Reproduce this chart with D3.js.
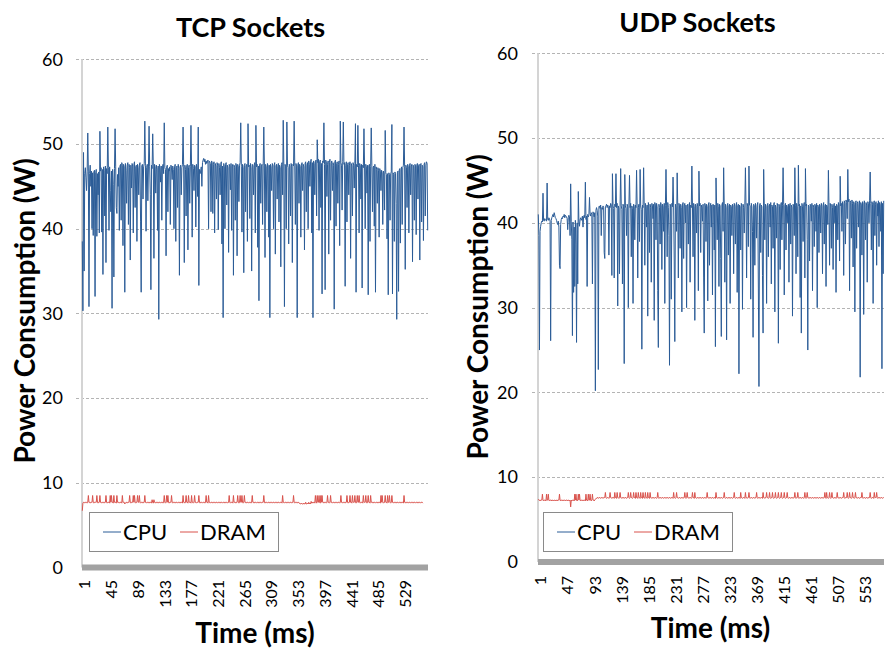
<!DOCTYPE html>
<html>
<head>
<meta charset="utf-8">
<script src="https://cdn.jsdelivr.net/npm/d3@7"></script>
<style>
  body { margin: 0; background: #fff; }
  text { font-family: Lato, "Open Sans", sans-serif; fill: #000; }
</style>
</head>
<body>
<svg width="893" height="657"></svg>
<script>
// CPU power, TCP sockets run (W), one value per ms
const tcpCpu = [
38.5,30.3,49.0,35.0,46.5,47.2,46.0,44.5,46.8,51.3,46.7,30.8,46.5,47.5,45.0,46.8,40.0,46.6,39.2,46.7,46.9,32.0,46.6,47.0,39.1,46.5,44.0,46.7,39.5,51.5,
46.8,47.2,39.6,47.0,34.6,47.3,46.9,41.5,47.4,36.0,47.1,46.5,52.0,47.2,39.8,47.3,44.5,42.0,46.8,30.6,47.0,45.2,34.3,47.1,51.8,47.3,42.5,41.8,46.4,45.0,
47.2,39.8,47.4,47.6,41.0,47.8,47.5,38.0,47.6,47.3,32.5,47.7,46.9,43.0,47.5,47.8,40.5,47.6,47.2,36.3,47.5,44.8,47.7,47.4,39.5,47.6,47.9,42.5,47.3,47.5,
38.5,47.6,47.2,44.0,47.5,47.8,40.8,32.5,47.4,47.6,43.5,47.3,47.7,52.7,47.5,39.7,47.2,47.6,43.3,47.4,52.1,47.3,44.0,32.8,47.5,47.1,51.2,47.4,36.5,47.6,
47.3,44.2,47.5,47.0,39.8,47.4,29.3,47.6,47.2,45.5,47.4,41.0,47.3,47.6,46.5,52.5,47.2,47.0,36.8,47.3,47.5,42.0,47.1,46.8,47.3,40.5,47.5,47.2,45.8,47.4,
47.0,40.0,47.3,47.6,38.5,47.2,47.4,42.5,47.6,47.1,34.5,47.3,47.5,44.0,47.2,47.6,52.0,47.3,36.0,47.5,47.0,41.5,47.4,47.6,37.5,47.2,47.5,43.0,47.3,52.2,
47.4,39.0,47.6,47.1,44.5,47.5,47.3,40.2,47.6,47.2,43.8,52.0,33.3,47.0,46.5,46.8,47.3,45.0,47.8,48.1,48.3,47.9,48.2,47.6,48.0,47.7,47.9,48.1,40.0,48.0,
47.9,47.7,42.0,48.0,47.8,41.8,47.6,47.9,39.5,47.7,47.4,43.5,47.8,47.5,39.9,47.7,47.2,44.0,47.6,47.9,38.2,47.4,29.5,47.7,47.3,40.0,47.6,47.8,42.8,47.5,
47.2,37.2,47.6,47.4,44.6,47.7,39.8,47.3,47.6,34.5,47.5,47.2,41.0,47.7,47.4,36.8,47.6,47.3,43.2,47.5,47.8,52.5,47.3,39.6,47.6,47.2,34.8,47.5,47.7,42.0,
47.4,47.6,38.5,52.4,47.3,47.5,41.2,47.7,47.2,35.0,47.6,47.4,44.0,47.5,47.8,39.5,52.2,47.3,47.6,37.8,47.4,31.5,47.5,47.7,43.0,47.3,47.6,40.5,47.5,52.0,
47.4,36.6,47.6,47.3,42.0,47.7,47.4,39.0,47.5,29.5,47.6,47.3,44.5,47.7,47.4,40.0,47.5,47.8,37.0,47.4,47.6,43.5,47.3,47.7,40.8,47.5,47.2,35.5,47.6,47.8,
44.0,52.8,47.4,30.8,47.6,47.3,40.0,52.6,47.5,47.2,38.2,47.6,47.4,41.5,47.7,47.3,36.0,47.6,47.4,52.7,47.5,40.5,47.7,47.3,29.5,47.5,47.8,43.0,47.6,47.3,
39.0,47.5,47.8,44.5,47.6,47.3,37.5,47.7,47.9,42.0,47.5,47.8,40.0,48.0,47.6,45.0,47.9,48.2,39.5,47.8,29.5,48.0,47.7,44.0,47.9,48.1,41.5,50.5,47.8,48.2,
39.8,47.9,48.1,42.5,47.7,32.3,48.0,47.8,52.5,47.6,32.8,48.1,47.9,43.8,47.6,48.0,37.0,47.8,48.2,41.0,47.7,48.0,44.5,47.8,47.5,30.5,47.9,48.1,40.3,47.7,
47.9,43.0,47.6,48.0,38.0,52.7,47.8,47.5,42.2,47.9,52.6,47.6,47.8,33.2,47.5,47.9,40.8,47.6,47.8,44.0,47.5,47.9,36.5,47.7,47.4,41.5,47.8,47.5,44.8,47.7,
52.4,32.5,47.6,47.3,52.2,47.5,39.5,47.7,47.4,43.5,47.6,33.0,47.5,47.2,51.8,47.4,40.0,47.6,47.3,44.2,47.5,32.2,47.4,47.6,38.5,47.3,51.9,47.5,42.0,47.2,
47.4,40.3,47.6,32.5,47.3,47.0,43.0,47.2,46.9,39.0,47.1,46.8,44.5,46.9,46.6,40.5,46.8,46.5,42.2,51.6,46.6,46.4,38.8,46.5,32.2,46.6,46.4,41.0,46.5,46.7,
52.3,32.3,46.6,46.4,38.5,46.7,46.5,43.0,29.3,46.6,46.8,32.6,46.9,47.1,38.3,47.0,47.3,40.5,47.2,47.5,52.0,47.3,35.2,47.5,47.2,42.5,47.6,47.3,39.5,47.5,
47.7,44.0,47.4,47.6,36.1,47.5,47.3,41.0,47.6,47.4,39.3,47.5,47.7,43.5,47.4,47.6,36.3,47.5,47.7,40.8,47.5,47.3,38.6,47.6,47.8,41.5,47.5,47.9,47.7,39.8
];

// DRAM power, TCP sockets run (W)
const tcpDram = [
6.7,7.6,7.7,7.7,7.6,7.7,7.7,7.7,7.6,7.7,8.5,7.7,7.7,7.6,7.7,7.7,7.7,8.5,7.7,7.6,7.7,7.7,7.7,7.7,8.5,7.7,7.6,7.7,7.7,8.5,
7.7,7.7,7.6,7.7,7.7,7.7,7.6,7.7,7.7,8.5,7.7,7.6,7.7,7.7,7.7,7.6,8.5,7.7,8.5,7.7,7.7,7.6,8.5,7.7,7.7,7.7,7.6,8.5,7.7,7.7,
7.7,7.6,7.7,7.7,7.7,7.6,8.5,7.7,7.7,7.7,7.5,7.6,7.7,7.7,7.6,7.7,7.7,7.7,8.5,7.7,7.6,7.7,7.7,7.7,8.5,7.7,8.5,7.7,7.6,7.7,
7.7,8.5,7.7,7.7,8.5,7.7,7.6,7.7,7.7,7.7,7.6,7.7,7.7,8.5,7.7,7.7,7.6,7.7,7.7,7.7,7.6,7.7,7.7,7.7,7.6,8.0,7.7,7.6,8.0,7.7,
7.7,7.6,7.7,7.7,7.7,7.6,7.7,7.7,7.7,7.6,7.7,7.7,7.7,7.6,7.7,8.5,7.7,7.6,7.7,8.5,7.7,8.5,7.7,7.6,7.7,7.7,7.7,8.5,7.7,7.6,
7.7,7.7,7.7,7.6,7.7,7.7,7.7,7.6,7.7,7.7,7.7,7.6,7.7,7.7,7.7,7.6,8.5,7.7,7.7,7.6,7.7,8.5,7.7,7.7,7.6,8.5,7.7,7.7,7.7,7.6,
8.5,7.7,7.7,7.6,7.7,8.5,7.7,7.7,7.6,7.7,7.7,7.7,8.5,7.7,7.6,7.7,7.7,7.7,7.6,7.7,7.7,7.7,7.6,7.7,8.5,7.7,7.7,7.6,8.5,7.7,
7.7,7.6,7.7,7.7,7.7,7.6,7.7,7.7,7.7,7.6,7.7,7.7,7.7,7.6,7.7,7.7,7.7,7.6,7.7,7.7,7.7,7.6,7.7,7.7,7.7,7.6,7.7,7.7,7.7,7.6,
7.7,7.7,8.5,7.7,7.6,7.7,7.7,7.7,7.6,8.5,7.7,7.7,7.7,7.6,7.7,7.7,8.5,7.7,7.6,7.7,8.5,7.7,7.7,8.5,7.7,7.6,7.7,8.5,7.7,7.7,
7.6,7.7,7.7,7.7,7.6,7.7,7.7,7.7,7.6,7.7,8.5,7.7,7.7,7.6,7.7,7.7,7.7,7.6,7.7,7.7,7.7,7.6,7.7,7.7,7.7,7.6,7.7,7.7,7.7,8.5,
7.7,7.6,7.7,7.7,7.7,7.6,7.7,7.7,7.7,7.6,7.7,7.7,7.7,7.6,7.7,7.7,7.7,7.6,7.7,7.7,7.7,7.6,7.7,7.7,7.7,7.6,7.7,7.7,7.7,7.6,
8.5,7.7,7.7,7.6,7.7,7.7,7.7,7.6,7.7,7.7,7.7,7.6,7.7,7.7,7.7,7.6,7.7,7.7,8.5,7.7,7.6,7.7,7.7,7.7,7.6,7.7,7.7,7.6,7.6,7.5,
7.5,7.6,7.5,7.5,7.5,7.6,7.5,7.5,7.7,7.5,7.5,7.6,7.5,7.7,7.5,7.6,7.5,7.8,7.6,7.7,7.6,7.7,7.7,7.6,8.5,7.7,7.6,8.5,7.7,7.7,
8.5,7.7,7.6,8.5,7.7,8.5,7.7,7.7,7.6,7.7,7.7,7.7,7.6,7.7,8.5,7.7,7.7,7.6,7.7,8.5,7.7,7.7,7.6,7.7,7.7,7.7,7.6,7.7,7.7,7.7,
7.6,7.7,7.7,7.7,7.6,7.7,8.5,7.7,7.7,7.6,7.7,7.7,7.7,7.6,7.7,7.7,8.5,7.7,7.6,7.7,7.7,8.5,7.7,7.7,7.6,8.5,7.7,7.7,7.7,8.5,
7.7,7.6,7.7,8.5,7.7,7.7,8.5,7.7,7.6,7.7,7.7,7.7,7.6,8.5,7.7,7.7,7.7,8.5,7.7,7.6,7.7,8.5,7.7,7.7,7.6,8.5,7.7,7.7,7.7,7.6,
7.7,7.7,7.7,7.6,7.7,7.7,7.7,7.6,7.7,7.7,7.7,7.6,8.5,7.7,8.5,7.7,7.6,7.7,7.7,8.5,7.7,7.7,7.6,8.5,7.7,7.7,8.5,7.7,7.6,7.7,
8.5,7.7,7.7,7.6,7.7,7.7,7.7,7.6,7.7,7.7,7.7,7.6,7.7,7.7,7.7,7.6,7.7,7.7,7.7,7.6,8.5,7.7,7.7,7.6,7.7,7.7,7.7,7.6,7.7,7.7,
7.7,7.6,7.7,7.7,7.7,7.6,7.7,7.7,7.7,7.6,7.7,7.7,7.7,7.6,7.7,7.7,7.7,7.6,7.7,7.7,7.7,7.6
];

// CPU power, UDP sockets run (W)
const udpCpu = [
41.0,38.5,25.0,39.0,39.6,40.0,40.2,40.1,43.5,40.3,40.2,40.5,40.4,40.3,40.2,44.7,40.4,40.3,40.6,40.5,40.2,26.1,40.3,40.6,40.8,41.0,40.7,41.2,40.9,40.6,
40.5,40.3,40.0,39.8,40.2,39.5,35.0,34.6,39.8,40.4,40.6,40.5,40.8,40.7,41.0,40.6,40.9,40.8,40.7,40.5,39.2,40.6,40.9,40.7,38.5,44.6,40.2,38.0,26.7,40.1,
31.8,39.5,32.5,40.3,37.5,25.9,40.0,32.8,43.7,40.2,39.6,40.4,40.6,40.3,40.5,40.8,39.5,40.7,40.9,40.6,44.8,40.4,40.8,32.5,41.0,40.7,40.9,43.0,41.1,40.8,
41.2,41.0,32.8,41.3,41.0,40.7,41.2,20.2,41.5,41.8,41.5,40.8,22.7,41.9,42.0,41.7,42.1,38.5,41.8,41.6,42.0,41.8,36.5,35.8,41.9,42.0,42.2,41.8,42.1,41.9,
36.2,42.0,41.8,42.3,42.1,33.8,45.8,42.0,41.7,33.5,42.2,41.9,45.8,41.8,42.3,30.2,42.0,41.7,34.0,42.1,46.4,42.0,41.6,32.8,42.2,41.9,23.4,45.7,42.0,41.7,
38.5,42.2,41.9,30.0,42.1,45.6,41.8,42.3,36.0,42.0,41.7,30.5,42.2,41.9,38.0,42.1,41.8,46.2,42.0,33.5,41.8,42.2,37.8,46.3,42.0,41.6,25.1,42.1,41.8,46.5,
42.0,35.0,42.3,41.9,39.5,42.1,29.0,42.4,42.0,36.5,42.2,41.8,33.0,42.3,42.0,40.5,42.2,28.5,42.4,42.1,38.0,42.3,41.9,32.0,25.3,42.2,41.8,37.5,42.4,42.0,
34.5,42.2,41.9,39.0,42.3,30.5,42.0,46.3,42.1,36.0,42.4,41.8,38.5,23.2,42.2,42.0,31.0,42.3,41.9,45.4,42.1,35.5,26.0,42.2,41.8,39.0,45.9,42.0,33.5,42.3,
42.0,37.0,42.2,41.8,29.5,42.1,42.4,35.8,42.0,42.3,40.0,42.1,30.0,41.9,42.2,37.5,42.0,42.4,33.0,42.1,41.8,46.7,42.0,36.0,42.3,41.9,28.5,42.2,42.0,38.8,
42.3,41.9,32.0,46.1,42.0,42.3,36.5,42.1,41.8,40.2,42.2,33.5,27.0,42.3,42.0,37.8,42.2,41.9,30.8,42.1,42.4,35.0,42.0,42.3,39.5,42.1,31.5,42.2,41.9,36.8,
42.1,25.4,45.3,42.0,38.0,42.3,41.9,32.5,42.2,42.0,35.8,26.6,42.1,42.4,39.0,46.5,42.0,33.0,42.2,41.8,26.2,42.1,42.3,36.2,42.0,42.2,30.5,42.1,41.9,38.5,
42.2,42.0,34.0,42.3,41.9,37.5,42.1,42.4,31.8,42.0,42.2,22.2,42.1,41.9,36.8,42.3,42.0,29.8,42.2,41.8,38.8,42.1,46.5,42.0,33.5,42.3,41.9,37.2,46.7,42.1,
42.0,31.0,42.3,41.9,39.0,26.5,42.2,42.0,35.0,42.3,41.8,38.2,42.1,42.4,32.2,20.7,42.0,42.3,36.5,42.1,41.9,33.8,27.0,46.3,42.0,38.0,42.2,41.9,30.5,42.1,
42.3,36.0,42.0,42.2,39.5,42.4,32.8,42.1,41.9,37.0,42.2,42.4,29.5,42.1,41.8,38.2,42.3,42.0,25.8,42.2,41.9,34.5,42.1,42.4,38.0,42.0,46.5,42.2,31.5,42.0,
42.3,36.8,42.1,41.9,40.0,42.2,33.0,42.0,42.3,37.5,42.1,41.8,29.0,42.2,42.0,38.5,46.5,42.1,34.0,42.3,41.9,36.0,46.8,42.0,42.2,31.2,42.0,27.0,42.3,41.9,
37.8,42.1,42.4,33.5,46.4,42.0,42.2,38.0,25.0,42.1,41.9,35.5,42.2,42.0,40.2,42.3,32.0,42.1,41.8,37.2,42.2,42.0,39.0,42.3,30.0,42.1,41.9,36.5,42.2,42.0,
38.8,42.3,41.9,34.0,42.1,42.4,37.5,42.0,42.2,32.5,42.1,41.9,39.8,46.2,42.0,35.0,42.3,42.0,37.0,42.2,41.8,34.5,42.1,42.3,40.0,42.0,31.8,42.2,42.0,38.0,
42.4,42.1,35.5,45.5,42.0,42.3,39.0,42.5,42.2,33.8,42.6,42.3,37.5,42.7,42.4,40.5,46.3,42.5,42.8,32.0,42.6,42.4,38.2,42.7,42.3,34.8,42.5,42.2,29.5,42.4,
42.6,37.0,42.3,42.5,39.5,42.2,42.6,21.8,42.4,42.1,36.2,42.5,42.3,29.2,42.6,42.2,38.0,42.4,42.1,33.0,42.5,42.3,40.0,42.6,46.0,42.3,36.8,42.5,42.2,30.5,
42.4,42.6,38.5,42.2,42.5,35.0,42.3,40.8,42.6,37.2,42.4,42.1,39.0,42.5,22.8,42.3,34.0,42.6
];

// DRAM power, UDP sockets run (W)
const udpDram = [
7.4,7.3,7.3,7.2,7.3,7.3,7.3,8.0,7.3,7.2,7.3,7.3,7.3,7.2,8.0,7.3,7.3,8.0,7.3,7.2,7.3,7.3,7.3,7.2,7.3,7.3,7.2,7.3,7.3,7.2,
7.3,7.3,7.2,7.3,7.3,7.3,8.0,7.3,7.2,7.3,7.3,7.3,7.2,7.3,7.3,7.3,7.2,7.3,7.3,7.3,7.2,7.3,7.3,7.2,7.3,6.5,7.3,7.2,7.3,7.3,
7.3,7.2,8.0,7.3,8.0,7.3,7.2,7.3,8.0,7.3,8.0,7.3,7.2,7.3,7.3,7.3,7.2,7.3,7.3,7.3,7.2,8.0,7.3,7.3,7.2,8.0,7.3,7.3,8.0,7.3,
7.2,7.3,8.0,7.3,7.3,7.2,7.3,7.4,7.5,7.5,7.6,7.6,7.5,7.6,7.6,7.6,7.5,7.6,7.6,7.6,7.5,7.6,7.6,7.6,8.2,7.6,7.5,7.6,7.6,7.6,
7.5,7.6,8.2,7.6,7.6,7.5,7.6,7.6,7.6,7.5,8.2,7.6,7.6,7.5,8.2,7.6,7.6,7.5,7.6,8.2,7.6,7.6,7.5,7.6,7.6,7.6,7.5,7.6,7.6,7.6,
7.5,7.6,7.6,8.2,7.6,7.5,7.6,8.2,7.6,7.6,7.5,7.6,8.2,7.6,7.6,7.5,8.2,7.6,7.6,7.5,8.2,7.6,7.6,7.5,8.2,7.6,7.6,7.5,8.2,7.6,
7.6,7.5,8.2,7.6,7.6,7.5,8.2,7.6,7.6,7.5,8.2,7.6,7.6,7.5,7.6,7.6,7.6,7.5,7.6,7.6,7.6,7.5,7.6,8.2,7.6,7.5,7.6,7.6,7.6,7.5,
7.6,7.6,7.6,7.5,7.6,7.6,7.6,7.5,7.6,7.6,7.6,7.5,7.6,7.6,7.6,7.5,7.6,7.6,7.6,7.5,8.2,7.6,7.6,7.5,7.6,8.2,7.6,7.6,7.5,7.6,
7.6,7.6,7.5,7.6,7.6,7.6,7.5,7.6,7.6,8.2,7.6,7.5,7.6,8.2,7.6,7.6,7.5,7.6,7.6,7.6,7.5,7.6,8.2,7.6,7.6,7.5,8.2,7.6,7.6,7.5,
7.6,7.6,7.6,7.5,7.6,7.6,7.6,7.5,7.6,7.6,7.6,7.5,7.6,7.6,7.6,7.5,7.6,8.2,7.6,7.6,7.5,7.6,7.6,7.6,7.5,7.6,7.6,7.6,7.5,7.6,
7.6,7.5,8.2,7.6,7.6,7.5,7.6,7.6,7.6,7.5,7.6,7.6,7.6,7.5,7.6,7.6,8.2,7.6,7.5,7.6,7.6,7.6,7.5,7.6,7.6,7.6,7.5,7.6,7.6,7.6,
7.5,7.6,7.6,8.2,7.6,7.5,7.6,7.6,7.6,7.5,7.6,7.6,7.6,7.5,8.2,7.6,7.6,7.5,7.6,7.6,7.6,7.5,8.2,7.6,7.6,7.5,7.6,7.6,8.2,7.6,
7.5,7.6,7.6,7.6,7.5,7.6,7.6,7.6,7.5,7.6,7.6,8.2,7.6,7.5,7.6,7.6,7.6,7.5,7.6,7.6,7.6,7.5,8.2,7.6,7.6,7.5,7.6,7.6,8.2,7.6,
7.6,7.5,7.6,8.2,7.6,7.5,7.6,7.6,8.2,7.6,7.5,7.6,7.6,8.2,7.6,7.5,7.6,7.6,8.2,7.6,7.5,7.6,7.6,8.2,7.6,7.5,7.6,7.6,8.2,7.6,
7.5,7.6,7.6,8.2,7.6,7.5,7.6,7.6,7.6,7.5,7.6,7.6,7.6,7.5,7.6,7.6,8.2,7.6,7.5,7.6,7.6,8.2,7.6,7.5,7.6,7.6,7.6,7.5,7.6,7.6,
7.6,7.5,7.6,8.2,7.6,7.5,7.6,8.2,7.6,7.6,7.5,7.6,7.6,7.6,7.5,7.6,7.6,7.6,7.5,7.6,7.6,7.6,7.5,7.6,7.6,7.6,7.5,7.6,7.6,7.6,
7.5,7.6,7.6,7.6,7.5,7.6,7.6,8.2,7.6,7.5,8.2,7.6,7.6,7.5,7.6,8.2,7.6,7.5,7.6,8.2,7.6,7.6,7.5,7.6,7.6,7.6,7.5,7.6,8.2,7.6,
7.6,7.5,7.6,7.6,7.6,7.5,7.6,7.6,7.6,8.2,7.6,7.5,7.6,7.6,7.6,8.2,7.6,7.5,7.6,8.2,7.6,7.6,7.5,7.6,8.2,7.6,7.6,7.5,7.6,8.2,
7.6,7.6,7.5,7.6,7.6,7.6,7.5,7.6,7.6,7.6,8.2,7.6,7.5,7.6,7.6,7.6,7.5,7.6,7.6,7.6,7.5,7.6,7.6,7.6,8.2,7.6,7.5,7.6,7.6,7.6,
7.5,8.2,7.6,7.6,7.6,8.2,7.6,7.5,7.6,7.6,7.6,7.5,7.6,7.6,7.6,7.5,7.6,7.6
];

const yTicks = [0, 10, 20, 30, 40, 50, 60];
const tcpTimeTicks = [1, 45, 89, 133, 177, 221, 265, 309, 353, 397, 441, 485, 529];
const udpTimeTicks = [1, 47, 93, 139, 185, 231, 277, 323, 369, 415, 461, 507, 553];
const seriesNames = ["CPU", "DRAM"];
const seriesColors = ["#2b5c97", "#d9524c"];

const svg = d3.select("svg");

function drawPanel(p) {
    const g = svg.append("g");
    const n = p.cpu.length;

    // excel style category axis: one point per ms, centred in its slot
    const x = d3.scalePoint()
        .domain(d3.range(1, n + 1))
        .range([p.left, p.right])
        .padding(0.5);
    const y = d3.scaleLinear().domain([0, 60]).range([p.bottom, p.top]);

    // dashed gridlines + little tick stub on the left
    g.selectAll(".grid")
        .data(yTicks.filter(d => d > 0))
        .join("line")
        .attr("class", "grid")
        .attr("x1", p.left - 6).attr("x2", p.right)
        .attr("y1", d => Math.round(y(d)) + 0.5).attr("y2", d => Math.round(y(d)) + 0.5)
        .attr("stroke", "#b4b4b4")
        .attr("stroke-dasharray", "3,2");

    // y axis line
    g.append("line")
        .attr("x1", p.left).attr("x2", p.left)
        .attr("y1", p.top).attr("y2", p.bottom)
        .attr("stroke", "#d4d4d4")
        .attr("stroke-width", 2);

    // y tick labels
    const yAxis = d3.axisLeft(y).tickValues(yTicks).tickSize(0).tickPadding(0);
    const ya = g.append("g")
        .attr("transform", `translate(${p.tickX},0)`)
        .call(yAxis);
    ya.select(".domain").remove();
    ya.selectAll("text")
        .attr("font-family", "Lato")
        .attr("font-size", 18)
        .attr("fill", "#000");

    // data lines
    const line = d3.line()
        .x((d, i) => x(i + 1))
        .y(d => y(d));

    g.append("path")
        .datum(p.cpu)
        .attr("fill", "none")
        .attr("stroke", seriesColors[0])
        .attr("stroke-width", 1)
        .attr("d", line);

    g.append("path")
        .datum(p.dram)
        .attr("fill", "none")
        .attr("stroke", seriesColors[1])
        .attr("stroke-width", 1)
        .attr("d", line);

    // thick grey x axis band
    g.append("line")
        .attr("x1", p.left).attr("x2", p.right)
        .attr("y1", y(0)).attr("y2", y(0))
        .attr("stroke", "#a2a2a2")
        .attr("stroke-width", 6);

    // rotated time labels
    const xAxis = d3.axisBottom(x).tickValues(p.timeTicks).tickSize(0);
    const xa = g.append("g")
        .attr("transform", `translate(2,${p.labelTop})`)
        .call(xAxis);
    xa.select(".domain").remove();
    xa.selectAll("text")
        .attr("font-family", "Lato")
        .attr("font-size", 16)
        .attr("fill", "#000")
        .attr("text-anchor", "end")
        .attr("dy", "0.35em")
        .attr("transform", "rotate(-90)")
        .attr("x", 0).attr("y", 0);

    // titles
    g.append("text")
        .attr("x", p.titleX).attr("y", p.titleY)
        .attr("text-anchor", "middle")
        .attr("font-size", 27)
        .attr("font-weight", 700)
        .text(p.title);

    g.append("text")
        .attr("transform", `translate(${p.yTitleX},${p.yTitleY}) rotate(-90)`)
        .attr("text-anchor", "middle")
        .attr("font-size", 28)
        .attr("font-weight", 700)
        .text("Power Consumption (W)");

    g.append("text")
        .attr("x", p.xTitleX).attr("y", p.xTitleY)
        .attr("text-anchor", "middle")
        .attr("font-size", 28)
        .attr("font-weight", 700)
        .text("Time (ms)");

    // legend
    const lg = g.append("g").attr("transform", `translate(${p.legX},${p.legY})`);
    lg.append("rect")
        .attr("x", 0.5).attr("y", 0.5)
        .attr("width", 189).attr("height", 39)
        .attr("fill", "#fff")
        .attr("stroke", "#8a8a8a");
    const offs = [14, 91];
    seriesNames.forEach((name, i) => {
        lg.append("line")
            .attr("x1", offs[i]).attr("x2", offs[i] + 18)
            .attr("y1", 20).attr("y2", 20)
            .attr("stroke", seriesColors[i]);
        lg.append("text")
            .attr("x", offs[i] + 20).attr("y", 28)
            .attr("font-size", 22)
            .text(name);
    });
}

drawPanel({
    cpu: tcpCpu, dram: tcpDram, timeTicks: tcpTimeTicks, title: "TCP Sockets",
    left: 82, right: 428, top: 59.3, bottom: 567.5,
    tickX: 63, labelTop: 580,
    titleX: 250.5, titleY: 37,
    yTitleX: 35, yTitleY: 311,
    xTitleX: 255, xTitleY: 643,
    legX: 89, legY: 512
});

drawPanel({
    cpu: udpCpu, dram: udpDram, timeTicks: udpTimeTicks, title: "UDP Sockets",
    left: 538, right: 884, top: 53.3, bottom: 562,
    tickX: 518, labelTop: 576,
    titleX: 697.5, titleY: 32,
    yTitleX: 488, yTitleY: 307,
    xTitleX: 710.5, xTitleY: 638,
    legX: 543, legY: 512
});
</script>
</body>
</html>
